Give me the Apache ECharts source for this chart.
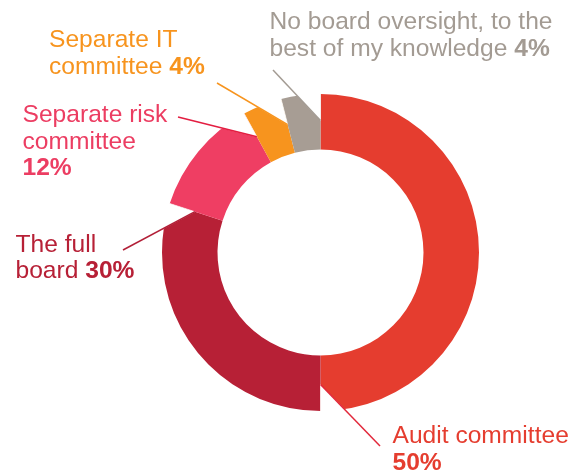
<!DOCTYPE html>
<html>
<head>
<meta charset="utf-8">
<script src="https://cdn.jsdelivr.net/npm/echarts@6/dist/echarts.min.js"></script>
<style>
  html, body { margin: 0; padding: 0; background: #ffffff; }
  #chart { width: 581px; height: 472px; }
</style>
</head>
<body>
<div id="chart"></div>
<script>
// Board oversight responsibility, share of respondents (%)
const categories = [
  'Audit committee',
  'The full\nboard',
  'Separate risk\ncommittee',
  'Separate IT\ncommittee',
  'No board oversight, to the\nbest of my knowledge'
];
const shares = [50, 30, 12, 4, 4];
const colors = ['#e53d2f', '#b72036', '#ef3e63', '#f7941e', '#a79d94'];
const textColors = ['#e53d2f', '#b72036', '#ec3d62', '#f7941e', '#a39b93'];
const lineColors = ['#e2283b', '#b21f37', '#e31d41', '#f7941e', '#a39b93'];

// Ring geometry in pixels
const CX = 320.5, CY = 252.5, R_IN = 103, R_OUT = 158.5;
const R_CUT = 132;   // radius where each leader line meets the slice's closing edge
const R_FAR = 185;   // outside the ring, used to close the white notch

// Label boxes (top-left), separator before the percentage, and leader start points
const labelBoxes = [
  { x: 392.5, y: 423.2, sep: '\n', anchor: [380, 446] },
  { x: 15.5,  y: 231.5, sep: ' ',  anchor: [123, 250] },
  { x: 22.5,  y: 102.2, sep: '\n', anchor: [178, 117] },
  { x: 49,    y: 27.2,  sep: ' ',  anchor: [217, 83] },
  { x: 269.5, y: 8.9,   sep: ' ',  anchor: [273, 70] }
];

const FONT = '"Liberation Sans", Arial, Helvetica, sans-serif';
const FS = 24.6;
const LH = 26.6;

function polar(angleDeg, r) {
  const a = angleDeg * Math.PI / 180;
  return [CX + r * Math.sin(a), CY - r * Math.cos(a)];
}

const total = shares.reduce((s, v) => s + v, 0);
let acc = 0;
const endAngles = shares.map(v => { acc += v; return acc / total * 360; });

const graphics = [];

// White notches: the leader line carries on into its slice and clears the outer corner
endAngles.forEach((endA, i) => {
  const p = polar(endA, R_CUT);
  const an = labelBoxes[i].anchor;
  let dx = an[0] - p[0], dy = an[1] - p[1];
  const len = Math.hypot(dx, dy);
  dx /= len; dy /= len;
  const ox = p[0] - CX, oy = p[1] - CY;
  const b = 2 * (ox * dx + oy * dy);
  const c = ox * ox + oy * oy - R_FAR * R_FAR;
  const t = (-b + Math.sqrt(b * b - 4 * c)) / 2;
  const a = [p[0] + t * dx, p[1] + t * dy];
  const far = polar(endA, R_FAR);
  graphics.push({
    type: 'polygon', z: 10, silent: true,
    shape: { points: [p, a, far] },
    style: { fill: '#ffffff', stroke: '#ffffff', lineWidth: 0.6 }
  });
});

// Leader lines
endAngles.forEach((endA, i) => {
  const p = polar(endA, R_CUT);
  const an = labelBoxes[i].anchor;
  graphics.push({
    type: 'line', z: 11, silent: true,
    shape: { x1: an[0], y1: an[1], x2: p[0], y2: p[1] },
    style: { stroke: lineColors[i], lineWidth: 1.5 }
  });
});

// Labels with bold percentages
categories.forEach((name, i) => {
  const box = labelBoxes[i];
  graphics.push({
    type: 'text', z: 12, silent: true,
    x: box.x, y: box.y,
    style: {
      text: name + box.sep + '{b|' + shares[i] + '%}',
      fill: textColors[i],
      fontFamily: FONT,
      fontSize: FS,
      lineHeight: LH,
      align: 'left',
      verticalAlign: 'top',
      rich: {
        b: { fontFamily: FONT, fontSize: FS, fontWeight: 'bold', lineHeight: LH, fill: textColors[i] }
      }
    }
  });
});

const chart = echarts.init(document.getElementById('chart'), null, { renderer: 'canvas' });
chart.setOption({
  animation: false,
  backgroundColor: '#ffffff',
  series: [{
    type: 'pie',
    center: [CX, CY],
    radius: [R_IN, R_OUT],
    startAngle: 90,
    clockwise: true,
    silent: true,
    label: { show: false },
    labelLine: { show: false },
    itemStyle: { borderWidth: 0 },
    data: categories.map((n, i) => ({ name: n, value: shares[i], itemStyle: { color: colors[i] } }))
  }],
  graphic: graphics
});
</script>
</body>
</html>
